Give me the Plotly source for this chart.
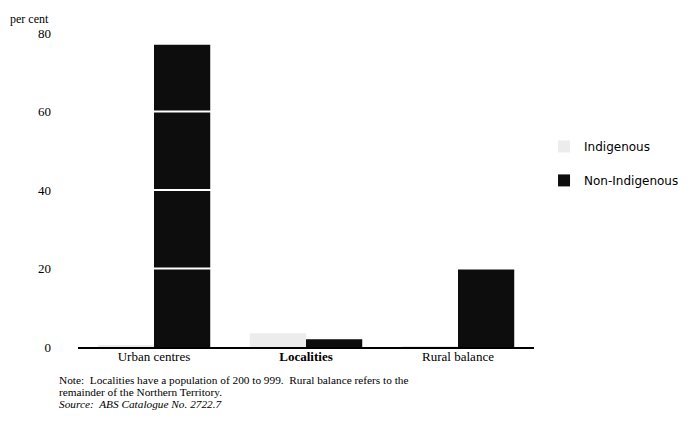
import plotly.graph_objects as go

categories = ["Urban centres", "Localities", "Rural balance"]
tick_labels = ["Urban centres", "<b>Localities</b>", "Rural balance"]
indigenous = [0.3, 3.5, 0.2]
non_indigenous = [77.0, 2.0, 20.0]
y_ticks = [0, 20, 40, 60, 80]
note_lines = [
    "Note:  Localities have a population of 200 to 999.  Rural balance refers to the",
    "remainder of the Northern Territory.",
    "<i>Source:  ABS Catalogue No. 2722.7</i>",
]

serif = "Liberation Serif"

fig = go.Figure()
fig.add_trace(go.Bar(
    x=categories, y=indigenous, name="Indigenous",
    marker=dict(color="#ececec", line=dict(width=0)),
    legendgroup="a",
))
fig.add_trace(go.Bar(
    x=categories, y=non_indigenous, name="Non-Indigenous",
    marker=dict(color="#0d0d0d", line=dict(width=0)),
    legendgroup="b",
))

# white gridlines drawn over the bars
for v in y_ticks[1:-1]:
    fig.add_shape(type="line", xref="paper", yref="y", x0=0, x1=1, y0=v, y1=v,
                  line=dict(color="white", width=2), layer="above")

annotations = [
    dict(text="per cent", xref="paper", yref="paper", x=-0.153, y=1.016,
         xanchor="left", yanchor="bottom", showarrow=False,
         font=dict(family=serif, size=12)),
]
for i, line in enumerate(note_lines):
    annotations.append(dict(
        text=line, xref="paper", yref="paper", x=-0.044, y=-0.106 - 0.0385 * i,
        xanchor="left", yanchor="middle", align="left", showarrow=False,
        borderpad=0, font=dict(family=serif, size=11.3)))

fig.update_layout(
    width=691, height=429,
    margin=dict(l=70, r=165, t=25, b=90, autoexpand=False),
    paper_bgcolor="white", plot_bgcolor="white",
    barmode="group", bargap=0.26, bargroupgap=0,
    font=dict(family=serif, size=12, color="black"),
    showlegend=True,
    legend=dict(
        x=1.022, y=0.685, xanchor="left", yanchor="top",
        font=dict(family="DejaVu Sans", size=12, color="black"),
        traceorder="grouped", tracegroupgap=15,
        bgcolor="rgba(0,0,0,0)",
    ),
    xaxis=dict(
        tickmode="array", tickvals=categories, ticktext=tick_labels,
        showline=True, linecolor="black", linewidth=1.5,
        ticks="", showgrid=False, zeroline=False,
        ticklabelstandoff=-3,
        tickfont=dict(family=serif, size=13, color="black"),
    ),
    yaxis=dict(
        range=[0, 80], tickmode="array", tickvals=y_ticks,
        showgrid=False, zeroline=False, showline=False, ticks="",
        ticklabelstandoff=26,
        tickfont=dict(family=serif, size=13, color="black"),
    ),
    annotations=annotations,
)

fig.write_html("out.html")
